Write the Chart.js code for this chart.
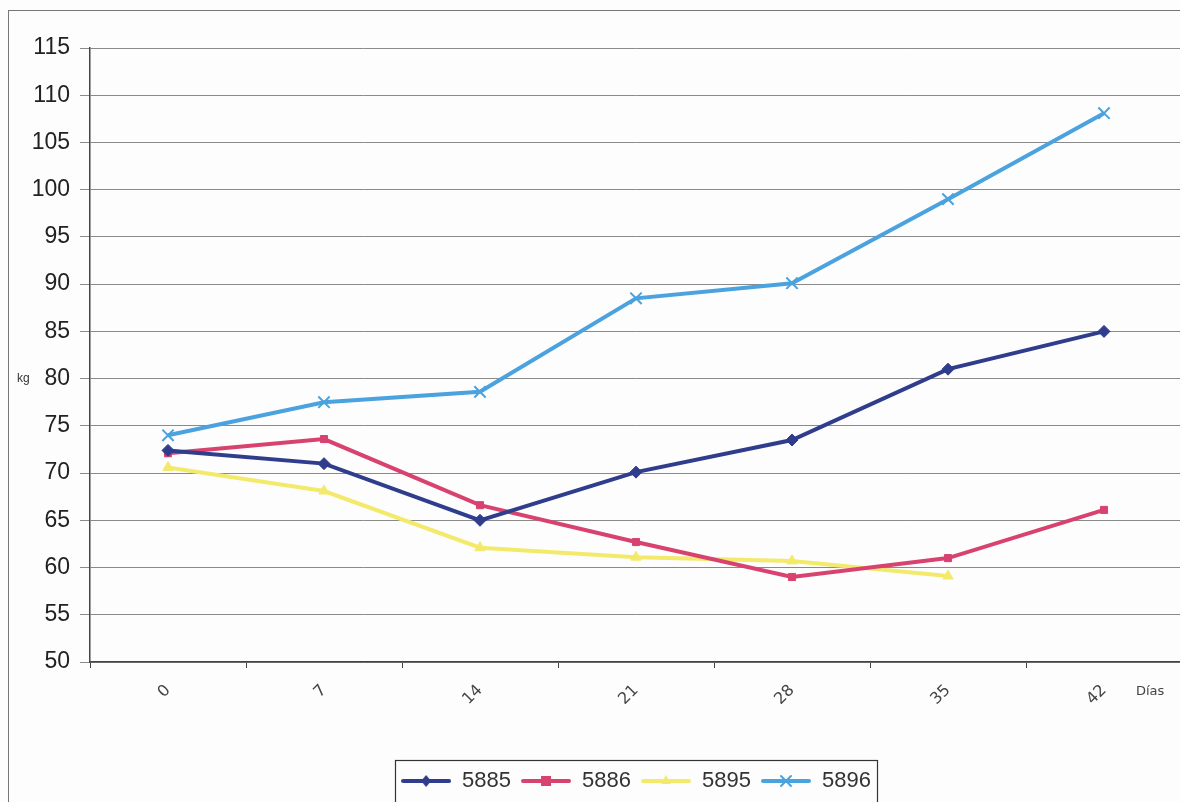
<!DOCTYPE html>
<html lang="es">
<head>
<meta charset="UTF-8">
<title>Peso (kg) por días</title>
<script src="https://cdn.jsdelivr.net/npm/chart.js"></script>
<style>
  html, body { margin: 0; padding: 0; background: #fdfdfd; overflow: hidden; }
  .wrap { position: relative; width: 1200px; height: 802px; }
</style>
</head>
<body>
<div class="wrap"><canvas id="chart"></canvas></div>
<script>
// data
const dias = ['0', '7', '14', '21', '28', '35', '42'];
const serie5885 = [72.4, 71.0, 65.0, 70.1, 73.5, 81.0, 85.0];
const serie5886 = [72.1, 73.6, 66.6, 62.7, 59.0, 61.0, 66.1];
const serie5895 = [70.6, 68.1, 62.1, 61.1, 60.7, 59.1, null];
const serie5896 = [74.0, 77.5, 78.6, 88.5, 90.1, 99.0, 108.1];
const yTicks = [50, 55, 60, 65, 70, 75, 80, 85, 90, 95, 100, 105, 110, 115];

// legend swatch: line with the marker in the middle
function swatch(color, style) {
  const c = document.createElement('canvas');
  c.width = 50; c.height = 16;
  const g = c.getContext('2d');
  g.strokeStyle = color; g.fillStyle = color;
  g.lineWidth = 4; g.lineCap = 'round';
  g.beginPath(); g.moveTo(2, 8); g.lineTo(48, 8); g.stroke();
  g.lineWidth = 2;
  g.beginPath();
  if (style === 'rectRot') { g.moveTo(25, 2); g.lineTo(30, 8); g.lineTo(25, 14); g.lineTo(20, 8); g.closePath(); g.fill(); }
  else if (style === 'rect') { g.fillRect(20, 3, 10, 10); }
  else if (style === 'triangle') { g.moveTo(25, 2); g.lineTo(30, 11); g.lineTo(20, 11); g.closePath(); g.fill(); }
  else { g.moveTo(20, 3); g.lineTo(30, 13); g.moveTo(30, 3); g.lineTo(20, 13); g.stroke(); }
  return c;
}

function ds(label, data, color, style, radius) {
  return {
    label: label,
    data: data,
    borderColor: color,
    backgroundColor: color,
    borderWidth: 4,
    pointStyle: style,
    pointRadius: radius,
    pointBorderWidth: style === 'crossRot' ? 2 : 1,
    pointBackgroundColor: color,
    pointBorderColor: color,
    tension: 0,
    spanGaps: false,
    legendImg: swatch(color, style)
  };
}

const extras = {
  id: 'extras',
  beforeDraw(chart) {
    const ctx = chart.ctx;
    ctx.save();
    ctx.strokeStyle = '#777';
    ctx.lineWidth = 1;
    ctx.strokeRect(8.5, 10.5, 1300, 1000);
    ctx.restore();
  },
  afterDraw(chart) {
    const ctx = chart.ctx;
    const area = chart.chartArea;
    ctx.save();
    ctx.fillStyle = '#333';
    ctx.font = '12px "Liberation Sans", Arial, sans-serif';
    ctx.textBaseline = 'middle';
    ctx.fillText('kg', 17, chart.scales.y.getPixelForValue(80));
    ctx.font = '13px "DejaVu Sans", sans-serif';
    ctx.fillStyle = '#444';
    ctx.fillText('Días', 1136, area.bottom + 30);
    // legend frame
    const boxes = chart.legend.legendHitBoxes;
    if (boxes && boxes.length) {
      const l = Math.min(...boxes.map(b => b.left)) - 6;
      const r = Math.max(...boxes.map(b => b.left + b.width)) + 6;
      ctx.strokeStyle = '#333';
      ctx.lineWidth = 1.2;
      ctx.strokeRect(Math.round(l) + 0.5, chart.legend.top + 0.5, Math.round(r - l), 44);
    }
    ctx.restore();
  }
};

new Chart(document.getElementById('chart'), {
  type: 'line',
  data: {
    labels: dias,
    datasets: [
      ds('5885', serie5885, '#2f3d8c', 'rectRot', 6),
      ds('5886', serie5886, '#d8426f', 'rect', 5),
      ds('5895', serie5895, '#f3ea6c', 'triangle', 6),
      ds('5896', serie5896, '#4aa2de', 'crossRot', 8)
    ]
  },
  options: {
    responsive: true,
    maintainAspectRatio: false,
    animation: false,
    layout: { padding: { top: 48, right: 18, left: 0, bottom: 0 } },
    plugins: {
      tooltip: { enabled: false },
      legend: {
        position: 'bottom',
        fullSize: false,
        labels: {
          usePointStyle: true,
          pointStyleWidth: 50,
          padding: 10,
          color: '#333',
          font: { family: '"Liberation Sans", Arial, sans-serif', size: 22 },
          generateLabels(chart) {
            return chart.data.datasets.map((d, i) => ({
              text: d.label,
              pointStyle: d.legendImg,
              fillStyle: d.borderColor,
              strokeStyle: d.borderColor,
              lineWidth: 0,
              fontColor: '#333',
              hidden: false,
              datasetIndex: i
            }));
          }
        }
      }
    },
    scales: {
      x: {
        offset: true,
        afterFit(scale) { scale.height = 98; },
        grid: { display: true, drawOnChartArea: false, offset: true, tickLength: 6, color: '#444' },
        border: { color: '#444', width: 1.5 },
        ticks: {
          maxRotation: 45,
          minRotation: 45,
          padding: 13,
          color: '#444',
          font: { family: '"DejaVu Sans", sans-serif', size: 16 }
        }
      },
      y: {
        min: 50,
        max: 115,
        afterFit(scale) { scale.width = 90; },
        afterBuildTicks(scale) { scale.ticks = yTicks.map(v => ({ value: v })); },
        grid: { color: '#8a8a8a', lineWidth: 1, tickLength: 10 },
        border: { color: '#444', width: 1.5 },
        ticks: {
          padding: 10,
          color: '#222',
          font: { family: '"Liberation Sans", Arial, sans-serif', size: 23 }
        }
      }
    }
  },
  plugins: [extras]
});
</script>
</body>
</html>
